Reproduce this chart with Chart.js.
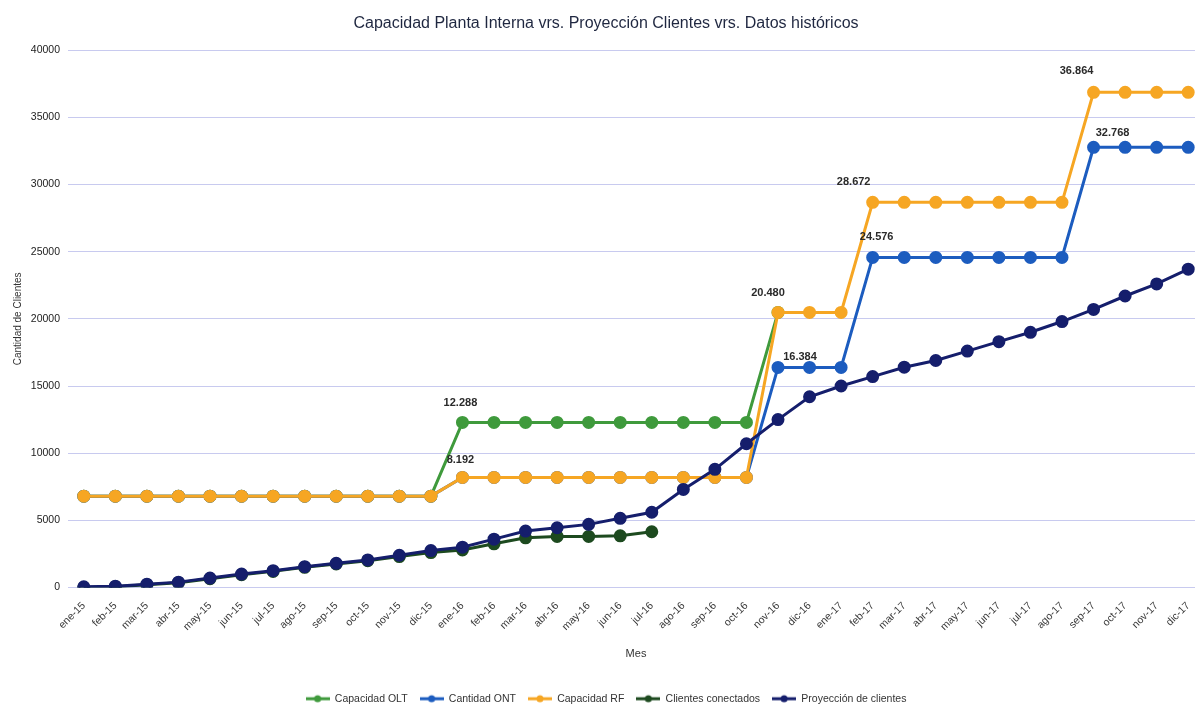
<!DOCTYPE html>
<html><head><meta charset="utf-8">
<script src="https://cdn.jsdelivr.net/npm/chart.js@4.4.1/dist/chart.umd.min.js"></script>
<style>
html,body{margin:0;padding:0;background:#fff;overflow:hidden;width:1195px;height:706px}
#wrap{position:relative;width:1212px;height:706px}
</style></head><body>
<div id="wrap"><canvas id="c" width="1212" height="706"></canvas></div>
<script>
const months = ['ene-15','feb-15','mar-15','abr-15','may-15','jun-15','jul-15','ago-15','sep-15','oct-15','nov-15','dic-15',
  'ene-16','feb-16','mar-16','abr-16','may-16','jun-16','jul-16','ago-16','sep-16','oct-16','nov-16','dic-16',
  'ene-17','feb-17','mar-17','abr-17','may-17','jun-17','jul-17','ago-17','sep-17','oct-17','nov-17','dic-17'];

const capacidadOLT = [6800,6800,6800,6800,6800,6800,6800,6800,6800,6800,6800,6800,
  12288,12288,12288,12288,12288,12288,12288,12288,12288,12288,20480,null,
  null,null,null,null,null,null,null,null,null,null,null,null];

const cantidadONT = [6800,6800,6800,6800,6800,6800,6800,6800,6800,6800,6800,6800,
  8192,8192,8192,8192,8192,8192,8192,8192,8192,8192,16384,16384,
  16384,24576,24576,24576,24576,24576,24576,24576,32768,32768,32768,32768];

const capacidadRF = [6800,6800,6800,6800,6800,6800,6800,6800,6800,6800,6800,6800,
  8192,8192,8192,8192,8192,8192,8192,8192,8192,8192,20480,20480,
  20480,28672,28672,28672,28672,28672,28672,28672,36864,36864,36864,36864];

const clientesConectados = [0,50,200,350,650,950,1200,1500,1750,2000,2300,2600,
  2800,3250,3700,3800,3800,3850,4150];

const proyeccionClientes = [50,100,250,400,700,1000,1250,1550,1800,2050,2400,2750,
  3000,3600,4200,4450,4700,5150,5600,7300,8800,10700,12500,14200,
  15000,15700,16400,16900,17600,18300,19000,19800,20700,21700,22600,23700];

const yTicks = [0,5000,10000,15000,20000,25000,30000,35000,40000];

// which points carry a value label: [datasetIndex, pointIndex]
const labelledPoints = [[0,12],[2,12],[2,22],[1,22],[2,25],[1,25],[2,32],[1,32]];

const COLORS = ['#3f9a3c','#1c5cbf','#f6a623','#1d4a1f','#151e6c'];
const NAMES = ['Capacidad OLT','Cantidad ONT','Capacidad RF','Clientes conectados','Proyección de clientes'];
const SERIES = [capacidadOLT, cantidadONT, capacidadRF, clientesConectados, proyeccionClientes];
const FONT = '"Liberation Sans", Arial, sans-serif';

function legendIcon(color){
  const c = document.createElement('canvas');
  c.width = 24; c.height = 10;
  const x = c.getContext('2d');
  x.strokeStyle = color; x.lineWidth = 3;
  x.beginPath(); x.moveTo(0,5); x.lineTo(24,5); x.stroke();
  x.fillStyle = color; x.beginPath(); x.arc(12,5,3.5,0,Math.PI*2); x.fill();
  return c;
}

function fmt(v){ return String(v).replace(/\B(?=(\d{3})+(?!\d))/g,'.'); }

// label offsets relative to point (style)
const labelOffsets = {'0-12':[-2,-19],'2-12':[-2,-17],'2-22':[-10,-19],'1-22':[22,-10],
  '2-25':[-19,-20],'1-25':[4,-20],'2-32':[-17,-21],'1-32':[19,-14]};

const valueLabels = {
  id:'valueLabels',
  afterDatasetsDraw(chart){
    const ctx = chart.ctx;
    ctx.save();
    ctx.font = 'bold 11px ' + FONT;
    ctx.fillStyle = '#2a2a2a';
    ctx.textAlign = 'center';
    ctx.textBaseline = 'middle';
    labelledPoints.forEach(([d,i])=>{
      const el = chart.getDatasetMeta(d).data[i];
      const off = labelOffsets[d+'-'+i] || [0,-16];
      ctx.fillText(fmt(chart.data.datasets[d].data[i]), el.x + off[0], el.y + off[1]);
    });
    ctx.restore();
  }
};

const drawOrder = [5,4,3,2,1];

new Chart(document.getElementById('c'), {
  type:'line',
  data:{
    labels: months,
    datasets: SERIES.map((s,k)=>({
      label: NAMES[k],
      data: s,
      borderColor: COLORS[k],
      backgroundColor: COLORS[k],
      pointBackgroundColor: COLORS[k],
      pointBorderColor: COLORS[k],
      borderWidth: 3,
      pointRadius: 5,
      pointHoverRadius: 5,
      tension: 0,
      fill: false,
      order: drawOrder[k],
      spanGaps: false
    }))
  },
  options:{
    responsive:false,
    animation:false,
    devicePixelRatio:1,
    layout:{padding:{left:0,right:0,top:0,bottom:-8}},
    plugins:{
      title:{
        display:true,
        text:'Capacidad Planta Interna vrs. Proyección Clientes vrs. Datos históricos',
        color:'#1f2740',
        font:{family:FONT,size:16,weight:'normal'},
        padding:{top:14,bottom:17}
      },
      legend:{
        position:'bottom',
        labels:{
          usePointStyle:true,
          pointStyleWidth:24,
          padding:12,
          color:'#333',
          font:{family:FONT,size:10.5},
          sort:(a,b)=>a.datasetIndex-b.datasetIndex,
          generateLabels(chart){
            const items = Chart.defaults.plugins.legend.labels.generateLabels(chart);
            items.forEach(it=>{ it.pointStyle = legendIcon(COLORS[it.datasetIndex]); });
            return items;
          }
        }
      },
      tooltip:{enabled:false}
    },
    scales:{
      x:{
        offset:true,
        grid:{display:false,drawTicks:false},
        border:{display:false},
        ticks:{
          minRotation:45,maxRotation:45,autoSkip:false,padding:12,
          color:'#3a3a3a',
          font:{family:FONT,size:10.5}
        },
        title:{display:true,text:'Mes',color:'#333',
          font:{family:FONT,size:11},
          padding:{top:4,bottom:21}},
        afterFit(scale){ scale.height = 94; }
      },
      y:{
        min:0,max:40000,
        afterBuildTicks(scale){ scale.ticks = yTicks.map(v=>({value:v})); },
        grid:{color:'#c8caef',lineWidth:1,drawTicks:false},
        border:{display:false},
        ticks:{padding:8,color:'#222',
          font:{family:FONT,size:10.5},
          callback:(v)=>String(v)},
        title:{display:true,text:'Cantidad de Clientes',color:'#333',
          font:{family:FONT,size:10},
          padding:{top:12,bottom:0}},
        afterFit(scale){ scale.width = 68; }
      }
    }
  },
  plugins:[valueLabels]
});
</script>
</body></html>
